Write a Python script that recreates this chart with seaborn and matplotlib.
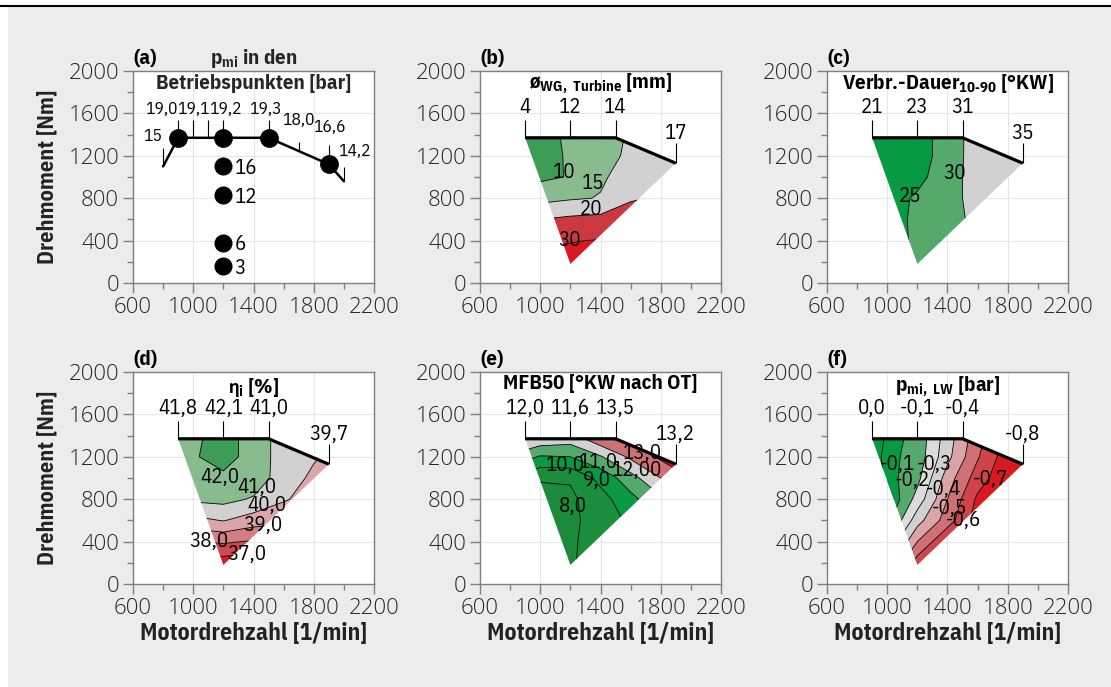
"""
plot.py

engine maps: operating points and five measured quantities
over speed and torque
"""

import numpy as np
import matplotlib
matplotlib.use("Agg")
import matplotlib.pyplot as plt
from matplotlib.patches import Polygon, Rectangle
from matplotlib.lines import Line2D
import seaborn as sns

sns.set_theme(style="white")
COND = "IBM Plex Sans Condensed"
plt.rcParams['font.family'] = [COND, 'DejaVu Sans']
plt.rcParams['mathtext.fontset'] = 'custom'
plt.rcParams['mathtext.rm'] = COND
plt.rcParams['mathtext.bf'] = COND + ':bold'
plt.rcParams['mathtext.it'] = COND + ':italic'
plt.rcParams['mathtext.fallback'] = 'stixsans'

# ---- data -------------------------------------------------------------

# grid of the maps (rpm, Nm)
speed = [800, 1000, 1200, 1400, 1600, 1800, 2000]
torque = [0, 200, 400, 600, 800, 1000, 1200, 1400]

# measured range: full load line and lowest point
fl_speed = [900, 1200, 1500, 1900]
fl_torque = [1370, 1370, 1370, 1130]
range_speed = [900, 1200, 1500, 1900, 1200]
range_torque = [1370, 1370, 1370, 1130, 180]

# (a) operating points
a_line_speed = [800, 900, 1200, 1500, 1900, 2000]
a_line_torque = [1100, 1370, 1370, 1370, 1120, 960]
a_tick_speed = [800, 900, 1000, 1100, 1200, 1500, 1700, 1900, 2000]
a_tick_top = [1270, 1540, 1540, 1540, 1540, 1540, 1330, 1300, 1094]
a_full_speed = [900, 1200, 1500, 1900]
a_full_torque = [1370, 1370, 1370, 1120]
a_part_speed = [1200, 1200, 1200, 1200]
a_part_torque = [1100, 830, 380, 160]
a_part_labels = ["16", "12", "6", "3"]
a_full_labels = ["15", "19,0", "19,1", "19,2", "19,3", "18,0", "16,6", "14,2"]
a_label_x = [790, 898, 1003, 1215, 1480, 1700, 1900, 1962]
a_label_y = [1390, 1640, 1640, 1640, 1640, 1540, 1470, 1250]
a_label_ha = ["right", "right", "center", "center", "center", "center", "center", "left"]

# (b) wastegate diameter [mm], rows = torque, cols = speed
b_z = [
    [34, 36, 37, 38, 38, 38, 38],
    [31, 33, 34, 35, 36, 37, 38],
    [27, 28.5, 29.5, 30.5, 31.5, 32, 33],
    [19, 20, 21, 21.5, 22.5, 24, 25],
    [12, 13.5, 14.5, 15.2, 19.5, 20.5, 21],
    [8, 9, 10.3, 14.5, 16.5, 17.5, 18],
    [7, 8.5, 10.5, 13, 16, 17, 18],
    [6, 8.5, 10.8, 13, 15.5, 17, 18],
]
b_levels = [0, 10, 15, 20, 30, 50]
b_top = ["4", "12", "14", "17"]
b_labels = [("10", 1156, 1038), ("15", 1348, 943), ("20", 1338, 689), ("30", 1195, 400)]

# (c) combustion duration 10-90 [deg CA]
c_z = [
    [24, 24.8, 25.2, 27, 29, 31, 32],
    [23.5, 24.5, 25.1, 27, 29, 31, 32],
    [23, 24.3, 25.3, 27.5, 30, 32, 33],
    [22.5, 24, 25.5, 27.8, 31.5, 33, 34],
    [22, 23.5, 25.5, 27.5, 32.5, 33.5, 34.5],
    [21, 22.5, 24, 27, 33, 34, 35],
    [20.5, 22, 23.5, 26.5, 33, 34.5, 35.5],
    [20, 21.5, 23.5, 26.5, 33, 34.5, 35.5],
]
c_levels = [0, 25, 30, 35, 50]
c_top = ["21", "23", "31", "35"]
c_labels = [("25", 1150, 820), ("30", 1450, 1030)]

# (d) indicated efficiency [%]
d_z = [
    [35.0, 35.3, 35.5, 35.3, 35.0, 34.5, 34.0],
    [36.0, 36.3, 36.5, 36.3, 36.0, 35.5, 35.0],
    [37.8, 38.0, 38.15, 37.9, 37.5, 37.0, 36.5],
    [39.4, 39.7, 40.05, 39.5, 39.3, 38.7, 38.2],
    [40.8, 41.2, 41.3, 40.9, 40.1, 39.6, 39.0],
    [41.5, 41.8, 41.9, 41.6, 40.5, 39.8, 39.4],
    [41.7, 41.95, 42.2, 41.8, 40.4, 40.1, 39.6],
    [41.6, 41.9, 42.2, 41.8, 40.4, 40.1, 39.6],
]
d_levels = [30, 37, 38, 39, 40, 41, 42, 50]
d_top = ["41,8", "42,1", "41,0", "39,7"]
d_labels = [("42,0", 1176, 1005), ("41,0", 1421, 910), ("40,0", 1488, 739),
            ("39,0", 1461, 550), ("38,0", 1103, 398), ("37,0", 1355, 275)]

# (e) MFB50 [deg CA after TDC]
e_z = [
    [7.8, 7.7, 8.0, 8.2, 8.8, 9.6, 10.5],
    [7.8, 7.6, 7.95, 8.2, 8.9, 9.8, 10.8],
    [7.8, 7.5, 7.9, 8.3, 9.0, 10.0, 11.0],
    [8.0, 7.5, 7.8, 8.4, 9.2, 10.2, 11.0],
    [8.3, 7.6, 7.8, 8.6, 9.7, 10.8, 12.0],
    [9.0, 8.1, 8.1, 9.3, 10.6, 12.0, 13.0],
    [10.8, 9.9, 10.0, 10.9, 12.2, 13.2, 13.8],
    [12.5, 12.0, 11.7, 13.0, 13.6, 14.5, 15.0],
]
e_levels = [0, 8, 9, 10, 11, 12, 13, 20]
e_top = ["12,0", "11,6", "13,5", "13,2"]
e_labels = [("10,0", 1166, 1118), ("11,0", 1385, 1147), ("12,00", 1640, 1071),
            ("13,0", 1680, 1232), ("9,0", 1375, 976), ("8,0", 1216, 730)]

# (f) gas exchange pmi [bar]
f_z = [
    [-0.3, -0.45, -0.75, -0.9, -1.0, -1.0, -1.0],
    [-0.2, -0.35, -0.65, -0.8, -0.9, -1.0, -1.0],
    [-0.1, -0.2, -0.5, -0.7, -0.85, -0.95, -1.0],
    [0.0, -0.06, -0.36, -0.55, -0.75, -0.88, -0.98],
    [0.05, 0.0, -0.24, -0.5, -0.72, -0.85, -0.95],
    [0.02, -0.06, -0.17, -0.45, -0.65, -0.78, -0.9],
    [0.03, -0.07, -0.14, -0.37, -0.59, -0.76, -0.88],
    [0.05, -0.06, -0.13, -0.35, -0.56, -0.73, -0.85],
]
f_levels = [-1.2, -0.7, -0.6, -0.5, -0.4, -0.3, -0.2, -0.1, -0.05, 0.3]
f_top = ["0,0", "-0,1", "-0,4", "-0,8"]
f_labels = [("-0,1", 1070, 1128), ("-0,3", 1315, 1128), ("-0,2", 1170, 976),
            ("-0,4", 1375, 891), ("-0,5", 1415, 710), ("-0,6", 1505, 600),
            ("-0,7", 1686, 986)]

# ---- colours ----------------------------------------------------------
DKGREEN = "#3d9c55"
LTGREEN = "#88bc8e"
GREEN = "#079a42"
MDGREEN = "#55a96a"
GREY = "#d1d1d1"
LTGREY = "#dcdcdc"
PINK = "#d9a5a6"
ROSE = "#cf7074"
RED = "#c9393f"
BRIGHTRED = "#da1820"

b_colors = [DKGREEN, LTGREEN, GREY, RED, BRIGHTRED]
c_colors = [GREEN, MDGREEN, GREY, BRIGHTRED]
d_colors = [BRIGHTRED, "#cc4a50", "#d27e82", PINK, GREY, LTGREEN, DKGREEN]
e_colors = ["#1c8a3b", "#1a8e3c", GREEN, MDGREEN, GREY, ROSE, BRIGHTRED]
f_colors = [BRIGHTRED, "#cf444a", ROSE, PINK, GREY, LTGREY, MDGREEN, GREEN, GREEN]

TICKCOL = "#808080"
TEXTCOL = "#262626"
LABEL_KW = dict(fontsize=15, fontweight="normal", color="black")

# ---- figure -----------------------------------------------------------
W, H = 1111, 687
fig = plt.figure(figsize=(W / 100, H / 100), dpi=100)
fig.patch.set_facecolor("white")
fig.add_artist(Rectangle((8 / W, 0), 1 - 8 / W, 1 - 7 / H, transform=fig.transFigure,
                         facecolor="#ececec", edgecolor="none", zorder=-10))
fig.add_artist(Line2D([0, 1], [1 - 6 / H, 1 - 6 / H], transform=fig.transFigure,
                      color="black", lw=1.5))

lefts = [133, 480, 827]
tops = [71, 372]
axes = []
for r in range(2):
    for c in range(3):
        ax = fig.add_axes([lefts[c] / W, 1 - (tops[r] + 212) / H, 241 / W, 212 / H])
        axes.append(ax)


def style_axes(ax, letter):
    ax.set_xlim(600, 2200)
    ax.set_ylim(0, 2000)
    ax.set_xticks([600, 1000, 1400, 1800, 2200])
    ax.set_xticks([800, 1200, 1600, 2000], minor=True)
    ax.set_yticks([0, 400, 800, 1200, 1600, 2000])
    ax.set_yticks([200, 600, 1000, 1400, 1800], minor=True)
    ax.set_facecolor("white")
    ax.grid(True, which="major", color="#e6e6e6", lw=0.8)
    ax.set_axisbelow(True)
    for s in ax.spines.values():
        s.set_color(TICKCOL)
        s.set_linewidth(1.0)
    ax.tick_params(which="both", direction="out", color=TICKCOL, width=1.0,
                   bottom=True, left=True, labelcolor=TEXTCOL,
                   labelsize=16, labelfontfamily="Open Sans")
    ax.tick_params(which="major", length=7, pad=3)
    ax.tick_params(which="minor", length=4)
    for lab in ax.get_xticklabels() + ax.get_yticklabels():
        lab.set_fontweight("light")
    ax.text(0, 1.015, letter, transform=ax.transAxes, ha="left", va="bottom",
            fontsize=15, fontweight="bold", color="black")


def draw_map(ax, z, levels, colors, top, labels, title, title_y=0.94):
    xg, yg = np.meshgrid(speed, torque)
    zz = np.array(z)
    clip = Polygon(list(zip(range_speed, range_torque)), closed=True,
                   transform=ax.transData, facecolor="none", edgecolor="none")
    ax.add_patch(clip)
    cf = ax.contourf(xg, yg, zz, levels=levels, colors=colors, zorder=1,
                     antialiased=True)
    cf.set_clip_path(clip)
    cl = ax.contour(xg, yg, zz, levels=levels[1:-1], colors="black",
                    linewidths=0.6, linestyles="solid", zorder=2)
    cl.set_clip_path(clip)

    ax.plot(fl_speed, fl_torque, color="black", lw=2.3, zorder=4,
            solid_capstyle="butt")
    tick_top = [1540, 1540, 1540, 1320]
    ax.vlines(fl_speed, fl_torque, tick_top, color="black", lw=0.8, zorder=4)
    lab_y = [1660, 1660, 1660, 1415]
    for x, y, s in zip(fl_speed, lab_y, top):
        ax.text(x, y, s, ha="center", va="center", zorder=5, **LABEL_KW)
    for s, x, y in labels:
        ax.text(x, y, s, ha="center", va="center", zorder=5, **LABEL_KW)
    ax.text(0.5, title_y, title, transform=ax.transAxes, ha="center",
            va="center", fontsize=15, fontweight="bold", color="black")


# (a)
ax = axes[0]
style_axes(ax, "(a)")
ax.plot(a_line_speed, a_line_torque, color="black", lw=1.8, zorder=3)
ax.vlines(a_tick_speed, np.interp(a_tick_speed, a_line_speed, a_line_torque),
          a_tick_top, color="black", lw=0.8, zorder=3)
ax.plot(a_full_speed, a_full_torque, "o", color="black", ms=12.5, zorder=4)
ax.plot(a_part_speed, a_part_torque, "o", color="black", ms=12, zorder=4)
for x, y, s, ha in zip(a_label_x, a_label_y, a_full_labels, a_label_ha):
    ax.text(x, y, s, ha=ha, va="center", fontsize=12.5, color="black")
for x, y, s in zip(a_part_speed, a_part_torque, a_part_labels):
    ax.text(x + 75, y - 20, s, ha="left", va="center", fontsize=15,
            color="black")
ax.text(0.5, 1.057, r"p$_{\mathbf{mi}}$ in den", transform=ax.transAxes,
        ha="center", va="center", fontsize=15, fontweight="bold")
ax.text(0.5, 0.943, "Betriebspunkten [bar]", transform=ax.transAxes,
        ha="center", va="center", fontsize=15, fontweight="bold")

# (b) - (f)
style_axes(axes[1], "(b)")
draw_map(axes[1], b_z, b_levels, b_colors, b_top, b_labels,
         r"ø$_{\mathbf{WG,\ Turbine}}$ [mm]")
style_axes(axes[2], "(c)")
draw_map(axes[2], c_z, c_levels, c_colors, c_top, c_labels,
         r"Verbr.-Dauer$_{\mathbf{10‐90}}$ [°KW]")
style_axes(axes[3], "(d)")
draw_map(axes[3], d_z, d_levels, d_colors, d_top, d_labels,
         r"$\mathbf{\eta}_{\mathbf{i}}$ [%]", title_y=0.925)
style_axes(axes[4], "(e)")
draw_map(axes[4], e_z, e_levels, e_colors, e_top, e_labels,
         "MFB50 [°KW nach OT]", title_y=0.945)
style_axes(axes[5], "(f)")
draw_map(axes[5], f_z, f_levels, f_colors, f_top, f_labels,
         r"p$_{\mathbf{mi,\ LW}}$ [bar]", title_y=0.93)

for i in (0, 3):
    axes[i].set_ylabel("Drehmoment [Nm]", fontsize=16, fontweight="bold",
                       color="#222222", labelpad=8)
for i in (3, 4, 5):
    axes[i].set_xlabel("Motordrehzahl [1/min]", fontsize=17, fontweight="bold",
                       color="#222222", labelpad=2)

fig.savefig("out.png", dpi=100, facecolor=fig.get_facecolor())
